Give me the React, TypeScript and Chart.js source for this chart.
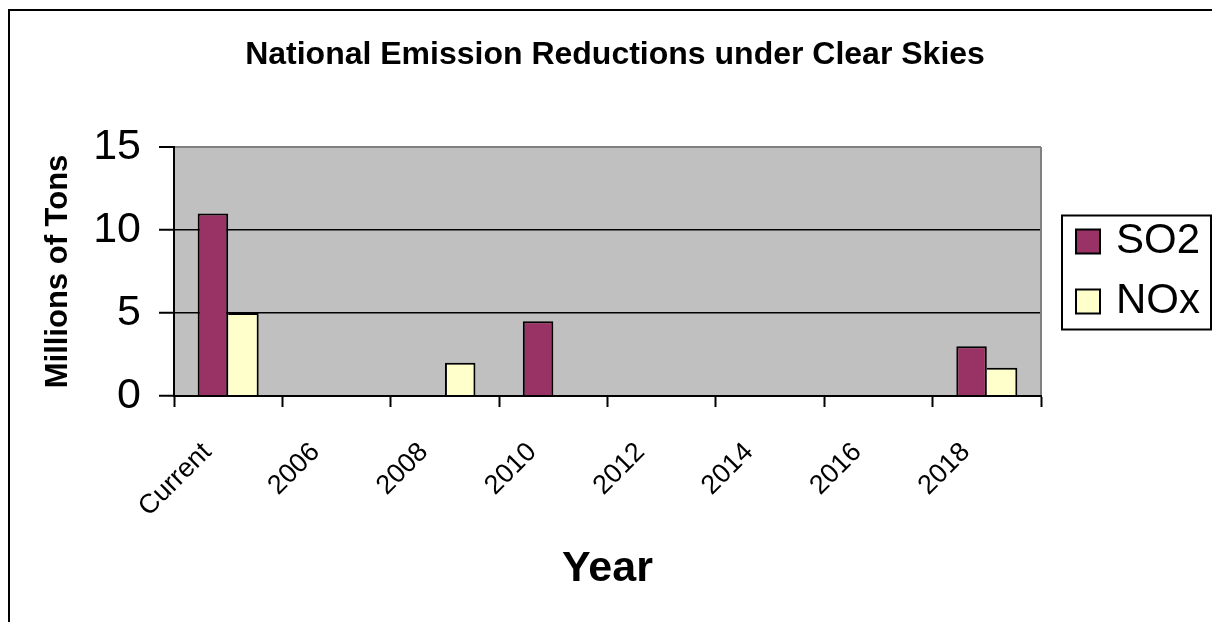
import React, { useEffect, useRef } from 'react';
import { Chart, registerables } from 'chart.js';

Chart.register(...registerables);

// ---- data ----
const categories: string[] = ['Current', '2006', '2008', '2010', '2012', '2014', '2016', '2018'];
const so2Values: (number | null)[] = [11, null, null, 4.5, null, null, null, 3];
const noxValues: (number | null)[] = [5, null, 2, null, null, null, null, 1.7];
const seriesNames: string[] = ['SO2', 'NOx'];
const seriesColors: string[] = ['#993366', '#FFFFCC'];
const yTickValues: number[] = [0, 5, 10, 15];
const chartTitle = 'National Emission Reductions under Clear Skies';
const xTitle = 'Year';
const yTitle = 'Millions of Tons';

const FONT = "'Liberation Sans', Arial, Helvetica, sans-serif";

function makeSwatch(color: string): HTMLCanvasElement {
  const c = document.createElement('canvas');
  c.width = 60;
  c.height = 30;
  const g = c.getContext('2d')!;
  g.fillStyle = '#000';
  g.fillRect(33, 2, 26, 26);
  g.fillStyle = color;
  g.fillRect(35, 4, 22, 22);
  return c;
}

const plotBackground = {
  id: 'plotBackground',
  beforeDraw(chart: any) {
    const { ctx, chartArea: a } = chart;
    ctx.save();
    ctx.fillStyle = '#C0C0C0';
    ctx.fillRect(a.left, a.top, a.right - a.left, a.bottom - a.top);
    ctx.restore();
  },
  beforeDatasetsDraw(chart: any) {
    const { ctx, chartArea: a } = chart;
    ctx.save();
    ctx.strokeStyle = '#808080';
    ctx.lineWidth = 2;
    ctx.beginPath();
    ctx.moveTo(a.right, a.top);
    ctx.lineTo(a.right, a.bottom);
    ctx.stroke();
    ctx.restore();
  },
};

const legendFrame = {
  id: 'legendFrame',
  afterDraw(chart: any) {
    const lg = chart.legend;
    if (!lg || !lg.legendHitBoxes || !lg.legendHitBoxes.length) return;
    const hb = lg.legendHitBoxes;
    const first = hb[0];
    const last = hb[hb.length - 1];
    const top = first.top - 5;
    const bottom = last.top + last.height + 7;
    const left = lg.left + 21;
    const right = lg.right + 11;
    const { ctx } = chart;
    ctx.save();
    ctx.strokeStyle = '#000';
    ctx.lineWidth = 2;
    ctx.strokeRect(left, top, right - left, bottom - top);
    ctx.restore();
  },
};

export default function App() {
  const ref = useRef<HTMLCanvasElement>(null);

  useEffect(() => {
    if (!ref.current) return;
    const swatches = seriesColors.map(makeSwatch);
    const chart = new Chart(ref.current, {
      type: 'bar',
      data: {
        labels: categories,
        datasets: [
          {
            label: seriesNames[0],
            data: so2Values,
            backgroundColor: seriesColors[0],
            borderColor: '#000',
            borderWidth: { top: 2, left: 2, right: 2, bottom: 0 },
            categoryPercentage: 0.563,
            barPercentage: 1,
          },
          {
            label: seriesNames[1],
            data: noxValues,
            backgroundColor: seriesColors[1],
            borderColor: '#000',
            borderWidth: (ctx: any) => ({
              top: 2,
              right: 2,
              bottom: 0,
              left: so2Values[ctx.dataIndex] == null ? 2 : 0,
            }),
            categoryPercentage: 0.563,
            barPercentage: 1,
          },
        ],
      } as any,
      options: {
        responsive: false,
        animation: false,
        layout: { padding: { left: 20, right: 12, top: 0, bottom: 0 } },
        plugins: {
          title: {
            display: true,
            text: chartTitle,
            color: '#000',
            font: { family: FONT, size: 32, weight: 'bold' },
            padding: { top: 24.8, bottom: 72.8 },
          },
          legend: {
            position: 'right',
            fullSize: false,
            maxWidth: 159,
            labels: {
              color: '#000',
              font: { family: FONT, size: 42 },
              padding: 18,
              boxWidth: 26,
              boxHeight: 26,
              usePointStyle: true,
              textAlign: 'right',
              generateLabels: (c: any) => {
                const items = (Chart.defaults.plugins.legend.labels as any).generateLabels(c);
                return items.map((it: any, i: number) => ({ ...it, pointStyle: swatches[i] }));
              },
            },
          },
          tooltip: { enabled: false },
        },
        scales: {
          x: {
            offset: true,
            grid: {
              offset: true,
              drawOnChartArea: false,
              drawTicks: true,
              tickLength: 11,
              tickColor: '#000',
              tickWidth: 2,
              color: '#000',
            },
            border: { display: true, color: '#000', width: 2, z: 1 },
            ticks: {
              color: '#000',
              font: { family: FONT, size: 27 },
              minRotation: 45,
              maxRotation: 45,
              autoSkip: false,
              padding: 29.5,
              labelOffset: -21,
            },
            title: {
              display: true,
              text: xTitle,
              color: '#000',
              font: { family: FONT, size: 43, weight: 'bold' },
              padding: { top: 0, bottom: 27.2 },
            },
            afterFit: (s: any) => {
              s.height = 226;
            },
          },
          y: {
            min: 0,
            max: 15,
            afterBuildTicks: (s: any) => {
              s.ticks = yTickValues.map((v) => ({ value: v }));
            },
            grid: {
              color: (ctx: any) => (ctx.tick && ctx.tick.value === 15 ? '#808080' : '#000'),
              lineWidth: (ctx: any) => (ctx.tick && ctx.tick.value === 15 ? 2 : 1.5),
              drawTicks: true,
              tickLength: 15,
              tickColor: '#000',
              tickWidth: 2,
            },
            border: { display: true, color: '#000', width: 2, z: 1 },
            ticks: {
              color: '#000',
              font: { family: FONT, size: 43 },
              padding: 18,
            },
            title: {
              display: true,
              text: yTitle,
              color: '#000',
              font: { family: FONT, size: 31, weight: 'bold' },
              padding: { top: 9.4, bottom: 0 },
            },
            afterFit: (s: any) => {
              s.width = 144;
            },
          },
        },
      } as any,
      plugins: [plotBackground, legendFrame],
    });
    return () => chart.destroy();
  }, []);

  return (
    <div
      style={{
        position: 'fixed',
        left: 8,
        top: 9,
        width: 1202,
        height: 611,
        borderTop: '2px solid #000',
        borderLeft: '2px solid #000',
        background: '#fff',
      }}
    >
      <canvas ref={ref} width={1202} height={611} style={{ display: 'block' }} />
    </div>
  );
}
